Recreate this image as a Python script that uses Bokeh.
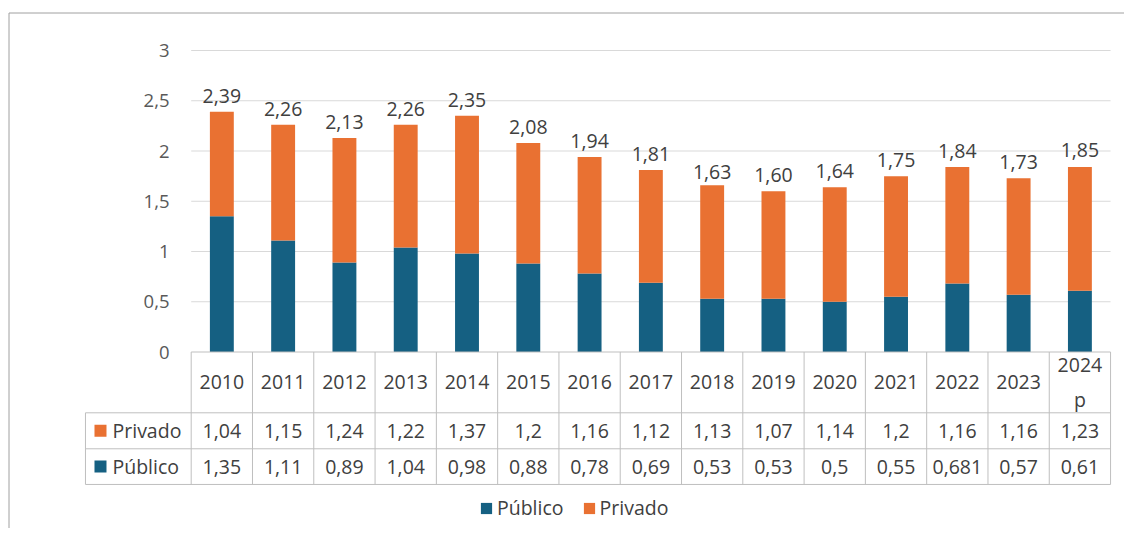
from bokeh.plotting import figure
from bokeh.models import ColumnDataSource, Range1d
from bokeh.core.properties import value
from bokeh.embed import file_html
from bokeh.resources import INLINE

# ---------------- data ----------------
years = ["2010", "2011", "2012", "2013", "2014", "2015", "2016", "2017",
         "2018", "2019", "2020", "2021", "2022", "2023", "2024\np"]
publico = [1.35, 1.11, 0.89, 1.04, 0.98, 0.88, 0.78, 0.69, 0.53, 0.53, 0.5, 0.55, 0.681, 0.57, 0.61]
privado = [1.04, 1.15, 1.24, 1.22, 1.37, 1.2, 1.16, 1.12, 1.13, 1.07, 1.14, 1.2, 1.16, 1.16, 1.23]
totals = [2.39, 2.26, 2.13, 2.26, 2.35, 2.08, 1.94, 1.81, 1.63, 1.60, 1.64, 1.75, 1.84, 1.73, 1.85]
series = ["Público", "Privado"]
y_ticks = [0, 0.5, 1, 1.5, 2, 2.5, 3]

# ---------------- styling ----------------
BLUE = "#156082"
ORANGE = "#E97132"
FONT = "Open Sans"
TXT = "#404040"
TICK_TXT = "#595959"
GRID = "#d9d9d9"
TABLE = "#bfbfbf"
FS = "19.5px"

def fmt(v):
    return str(v).replace(".", ",")

n = len(years)
xc = [i + 0.5 for i in range(n)]

src = ColumnDataSource(dict(
    x=xc, years=years,
    pub=publico, priv=privado,
    tot=totals, tot_txt=[("%.2f" % t).replace(".", ",") for t in totals],
    pub_txt=[fmt(v) for v in publico],
    priv_txt=[fmt(v) for v in privado],
))

# layout in data units (1 x unit = one table column, 1 y unit = 1.0 on the axis)
W, H = 1124, 528
XPX, YPX = 61.29, 100.5
XS = -190.7 / XPX
XE = XS + W / XPX
YE = 351.5 / YPX
YS = YE - H / YPX
ROW0, ROW1, ROW2 = -0.605, -0.963, -1.318
LEG_L = -1.725

p = figure(width=W, height=H, x_range=Range1d(XS, XE), y_range=Range1d(YS, YE),
           output_backend="svg", toolbar_location=None, min_border=0,
           x_axis_type=None, y_axis_type=None)
p.outline_line_color = None
p.background_fill_color = "white"

# outer frame (top and left)
BX = XS + 8.5 / XPX
BY = YE - 12.5 / YPX
p.line(x=[BX, BX, XE], y=[YS, BY, BY], line_color="#a0a0a0", line_width=1)

# gridlines
p.segment(x0=[0] * (len(y_ticks) - 1), x1=[n] * (len(y_ticks) - 1),
          y0=y_ticks[1:], y1=y_ticks[1:], line_color=GRID, line_width=1)

# y tick labels
p.text(x=[-0.354] * len(y_ticks), y=y_ticks, text=[fmt(t) for t in y_ticks],
       text_align="right", text_baseline="middle", text_font=value(FONT),
       text_font_size="18.5px", text_color=TICK_TXT)

# stacked bars
rs = p.vbar_stack(["pub", "priv"], x="x", width=0.39, source=src,
                  color=[BLUE, ORANGE], line_color=None, legend_label=series)

# total labels
p.text(x="x", y="tot", text="tot_txt", source=src, text_align="center",
       text_baseline="bottom", y_offset=-9, text_font=value(FONT),
       text_font_size=FS, text_color=TXT)

# ---------------- data table ----------------
# horizontal lines
p.segment(x0=[0, LEG_L, LEG_L, LEG_L], x1=[n, n, n, n],
          y0=[0, ROW0, ROW1, ROW2], y1=[0, ROW0, ROW1, ROW2],
          line_color=TABLE, line_width=1)
# vertical lines
vx = list(range(n + 1))
p.segment(x0=vx, x1=vx, y0=[0] * len(vx), y1=[ROW2] * len(vx), line_color=TABLE, line_width=1)
p.segment(x0=[LEG_L], x1=[LEG_L], y0=[ROW0], y1=[ROW2], line_color=TABLE, line_width=1)

# header
p.text(x="x", y=ROW0 / 2, text="years", source=src, text_align="center",
       text_baseline="middle", text_font=value(FONT), text_font_size=FS,
       text_color=TXT, text_line_height=1.3)
# values
p.text(x="x", y=(ROW0 + ROW1) / 2, text="priv_txt", source=src, text_align="center",
       text_baseline="middle", text_font=value(FONT), text_font_size=FS, text_color=TXT)
p.text(x="x", y=(ROW1 + ROW2) / 2, text="pub_txt", source=src, text_align="center",
       text_baseline="middle", text_font=value(FONT), text_font_size=FS, text_color=TXT)

# row legends
row_y = [(ROW0 + ROW1) / 2, (ROW1 + ROW2) / 2]
p.scatter(x=[-1.48, -1.48], y=row_y, marker="square", size=12,
          color=[ORANGE, BLUE], line_color=None)
p.text(x=[-1.284, -1.284], y=row_y, text=[series[1], series[0]], text_align="left",
       text_baseline="middle", text_font=value(FONT), text_font_size=FS, text_color=TXT)

# ---------------- legend ----------------
lg = p.legend[0]
lg.orientation = "horizontal"
lg.location = (479, 7)
lg.border_line_color = None
lg.background_fill_alpha = 0
lg.padding = 0
lg.margin = 0
lg.spacing = 18
lg.label_standoff = 4
lg.glyph_width = 14
lg.glyph_height = 14
lg.label_text_font = FONT
lg.label_text_font_size = FS
lg.label_text_color = TXT

open("out.html", "w").write(file_html(p, INLINE))
